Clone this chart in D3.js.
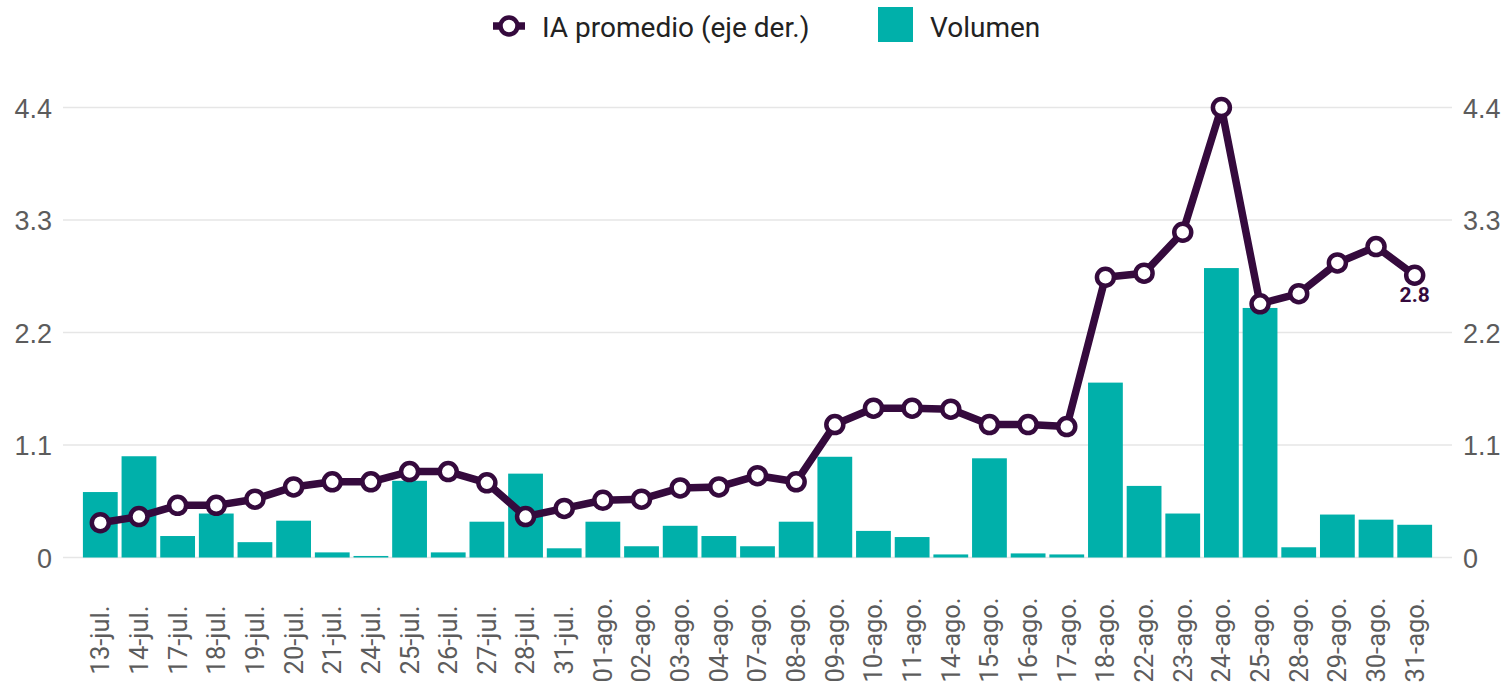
<!DOCTYPE html>
<html>
<head>
<meta charset="utf-8">
<script src="https://cdn.jsdelivr.net/npm/d3@7"></script>
<style>
  html, body { margin: 0; padding: 0; background: #fff; }
  svg { display: block; font-family: Roboto, "Noto Sans", sans-serif; }
</style>
</head>
<body>
<svg id="chart"></svg>
<script>
// datos
const fechas = ["13-jul.", "14-jul.", "17-jul.", "18-jul.", "19-jul.", "20-jul.", "21-jul.", "24-jul.",
  "25-jul.", "26-jul.", "27-jul.", "28-jul.", "31-jul.", "01-ago.", "02-ago.", "03-ago.", "04-ago.",
  "07-ago.", "08-ago.", "09-ago.", "10-ago.", "11-ago.", "14-ago.", "15-ago.", "16-ago.", "17-ago.",
  "18-ago.", "22-ago.", "23-ago.", "24-ago.", "25-ago.", "28-ago.", "29-ago.", "30-ago.", "31-ago."];

const volumen = [0.64, 0.99, 0.21, 0.43, 0.15, 0.36, 0.05, 0.015, 0.75, 0.05, 0.35, 0.82, 0.09,
  0.35, 0.11, 0.31, 0.21, 0.11, 0.35, 0.985, 0.26, 0.20, 0.03, 0.97, 0.04, 0.03,
  1.71, 0.70, 0.43, 2.83, 2.44, 0.10, 0.42, 0.37, 0.32];

const iaPromedio = [0.34, 0.40, 0.51, 0.51, 0.57, 0.69, 0.74, 0.74, 0.84, 0.84, 0.73, 0.40, 0.48,
  0.56, 0.57, 0.68, 0.69, 0.80, 0.74, 1.30, 1.46, 1.46, 1.45, 1.30, 1.30, 1.28,
  2.74, 2.78, 3.18, 4.40, 2.48, 2.58, 2.88, 3.04, 2.76];

const ticksY = [0, 1.1, 2.2, 3.3, 4.4];

const colorBarra = "#00b0aa";
const colorLinea = "#350a3d";
const colorTexto = "#5c5c5c";

const width = 1507, height = 686;
const svg = d3.select("#chart").attr("width", width).attr("height", height);

// escalas
const x = d3.scaleBand()
  .domain(fechas)
  .range([63, 1452])
  .paddingInner(0.1)
  .paddingOuter(0.515);

const yIzq = d3.scaleLinear().domain([0, 4.4]).range([557.5, 107.5]);
const yDer = d3.scaleLinear().domain([0, 4.4]).range([557.5, 107.5]);

// rejilla
svg.append("g")
  .selectAll("line")
  .data(ticksY)
  .enter().append("line")
  .attr("x1", 63).attr("x2", 1452)
  .attr("y1", d => yIzq(d)).attr("y2", d => yIzq(d))
  .attr("stroke", "#e6e6e6")
  .attr("stroke-width", 1.5);

// eje izquierdo
const ejeIzq = svg.append("g")
  .attr("transform", "translate(52,0)")
  .call(d3.axisLeft(yIzq).tickValues(ticksY).tickSize(0).tickPadding(0).tickFormat(d => d === 0 ? "0" : d3.format(".1f")(d)));
ejeIzq.select(".domain").remove();
ejeIzq.selectAll("text")
  .attr("fill", colorTexto)
  .style("font-size", "27px")
  .attr("dy", "0.36em");

// eje derecho
const ejeDer = svg.append("g")
  .attr("transform", "translate(1463,0)")
  .call(d3.axisRight(yDer).tickValues(ticksY).tickSize(0).tickPadding(0).tickFormat(d => d === 0 ? "0" : d3.format(".1f")(d)));
ejeDer.select(".domain").remove();
ejeDer.selectAll("text")
  .attr("fill", colorTexto)
  .style("font-size", "27px")
  .attr("dy", "0.36em");

// barras
svg.append("g")
  .selectAll("rect")
  .data(fechas)
  .enter().append("rect")
  .attr("x", d => x(d))
  .attr("width", x.bandwidth())
  .attr("y", (d, i) => yIzq(volumen[i]))
  .attr("height", (d, i) => yIzq(0) - yIzq(volumen[i]))
  .attr("fill", colorBarra);

// linea
const linea = d3.line()
  .x((d, i) => x(fechas[i]) + x.bandwidth() / 2)
  .y(d => yDer(d));

svg.append("path")
  .datum(iaPromedio)
  .attr("d", linea)
  .attr("fill", "none")
  .attr("stroke", colorLinea)
  .attr("stroke-width", 7.5)
  .attr("stroke-linejoin", "round");

svg.append("g")
  .selectAll("circle")
  .data(iaPromedio)
  .enter().append("circle")
  .attr("cx", (d, i) => x(fechas[i]) + x.bandwidth() / 2)
  .attr("cy", d => yDer(d))
  .attr("r", 8.5)
  .attr("fill", "#fff")
  .attr("stroke", colorLinea)
  .attr("stroke-width", 4.5);

// etiqueta del ultimo valor
const ultimo = iaPromedio.length - 1;
svg.append("text")
  .attr("x", x(fechas[ultimo]) + x.bandwidth() / 2)
  .attr("y", yDer(iaPromedio[ultimo]) + 27)
  .attr("text-anchor", "middle")
  .attr("fill", colorLinea)
  .style("font-size", "21px")
  .style("font-weight", "bold")
  .text(d3.format(".1f")(iaPromedio[ultimo]));

// etiquetas del eje x
svg.append("g")
  .selectAll("text")
  .data(fechas)
  .enter().append("text")
  .attr("transform", d => `translate(${x(d) + x.bandwidth() / 2},640) rotate(-90)`)
  .attr("text-anchor", "middle")
  .attr("dy", "0.35em")
  .attr("fill", colorTexto)
  .style("font-size", "25.5px")
  .text(d => d);

// leyenda
const ley = svg.append("g");
ley.append("line")
  .attr("x1", 493).attr("x2", 525).attr("y1", 26).attr("y2", 26)
  .attr("stroke", colorLinea).attr("stroke-width", 7.5);
ley.append("circle")
  .attr("cx", 509).attr("cy", 26).attr("r", 8.5)
  .attr("fill", "#fff").attr("stroke", colorLinea).attr("stroke-width", 4.5);
ley.append("text")
  .attr("x", 542).attr("y", 37)
  .attr("fill", "#222")
  .style("font-size", "28px")
  .text("IA promedio (eje der.)");
ley.append("rect")
  .attr("x", 878).attr("y", 7).attr("width", 35).attr("height", 35)
  .attr("fill", colorBarra);
ley.append("text")
  .attr("x", 930).attr("y", 37)
  .attr("fill", "#222")
  .style("font-size", "28px")
  .text("Volumen");
</script>
</body>
</html>
